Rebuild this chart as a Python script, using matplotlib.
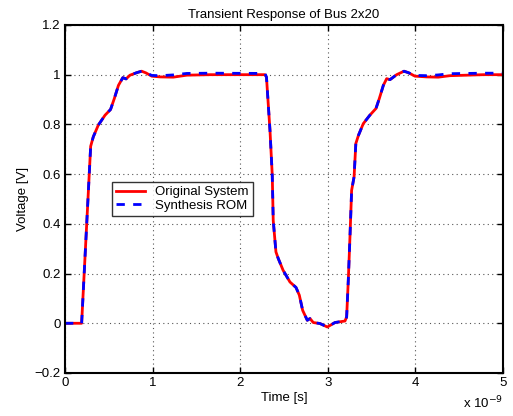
import matplotlib
matplotlib.use("Agg")
import matplotlib.pyplot as plt

plt.rcParams['font.family'] = ['Liberation Sans', 'DejaVu Sans']

# time in units of 1e-9 s
t_orig = [0.0, 0.19, 0.293, 0.323, 0.38, 0.457, 0.52, 0.563, 0.61, 0.66, 0.697, 0.742,
          0.818, 0.875, 0.925, 0.99, 1.085, 1.236, 1.39, 1.66, 2.283, 2.30, 2.34, 2.366,
          2.377, 2.408, 2.435, 2.49, 2.568, 2.637, 2.675, 2.713, 2.766, 2.797, 2.834,
          2.91, 2.995, 3.082, 3.196, 3.215, 3.234, 3.253, 3.272, 3.30, 3.32, 3.35, 3.405,
          3.48, 3.55, 3.588, 3.634, 3.672, 3.71, 3.786, 3.87, 3.92, 3.995, 4.13, 4.26,
          4.395, 4.78, 5.0]
v_orig = [0.0, 0.0, 0.712, 0.75, 0.797, 0.837, 0.86, 0.904, 0.957, 0.988, 0.983, 0.998,
          1.008, 1.014, 1.007, 0.994, 0.991, 0.99, 0.998, 1.0, 1.0, 0.99, 0.776, 0.595,
          0.414, 0.287, 0.26, 0.213, 0.166, 0.144, 0.113, 0.052, 0.012, 0.019, 0.003,
          -0.001, -0.015, 0.003, 0.009, 0.025, 0.173, 0.347, 0.535, 0.589, 0.723, 0.756,
          0.803, 0.837, 0.864, 0.904, 0.957, 0.984, 0.98, 1.0, 1.014, 1.008, 0.994,
          0.991, 0.99, 0.996, 1.0, 1.0]

t_rom = [0.0, 0.19, 0.293, 0.323, 0.38, 0.457, 0.52, 0.563, 0.61, 0.66, 0.697, 0.742,
         0.818, 0.875, 0.925, 0.99, 1.085, 1.236, 1.39, 1.66, 2.283, 2.30, 2.34, 2.366,
         2.377, 2.408, 2.435, 2.49, 2.568, 2.637, 2.675, 2.713, 2.766, 2.797, 2.834,
         2.91, 2.995, 3.082, 3.196, 3.215, 3.234, 3.253, 3.272, 3.30, 3.32, 3.35, 3.405,
         3.48, 3.55, 3.588, 3.634, 3.672, 3.71, 3.786, 3.87, 3.92, 3.995, 4.13, 4.26,
         4.395, 4.78, 5.0]
v_rom = [0.0, 0.0, 0.712, 0.75, 0.797, 0.837, 0.86, 0.904, 0.957, 0.988, 0.983, 0.998,
         1.008, 1.014, 1.008, 0.997, 0.996, 0.999, 1.005, 1.006, 1.005, 0.99, 0.776, 0.595,
         0.414, 0.287, 0.26, 0.213, 0.166, 0.144, 0.113, 0.052, 0.012, 0.019, 0.003,
         -0.001, -0.015, 0.003, 0.009, 0.025, 0.173, 0.347, 0.535, 0.589, 0.723, 0.756,
         0.803, 0.837, 0.864, 0.904, 0.957, 0.984, 0.98, 1.0, 1.014, 1.008, 0.997,
         0.996, 0.999, 1.004, 1.006, 1.006]

xticks = [0, 1, 2, 3, 4, 5]
yticks = [-0.2, 0, 0.2, 0.4, 0.6, 0.8, 1, 1.2]
ytick_labels = ['\u22120.2', '0', '0.2', '0.4', '0.6', '0.8', '1', '1.2']

fig = plt.figure(figsize=(5.13, 4.16), dpi=100)
ax = fig.add_axes([0.1267, 0.1034, 0.8538, 0.8366])

ax.plot(t_orig, v_orig, color='red', lw=2.0, label='Original System')
ax.plot(t_rom, v_rom, color='blue', lw=2.0, ls=(0, (3, 3)), label='Synthesis ROM')

ax.set_xlim(0, 5)
ax.set_ylim(-0.2, 1.2)
ax.set_xticks(xticks)
ax.set_xticklabels([str(x) for x in xticks])
ax.set_yticks(yticks)
ax.set_yticklabels(ytick_labels)
ax.tick_params(direction='in', top=True, right=True, labelsize=9.5, length=4, width=1, pad=3)
ax.grid(True, color='#555555', ls=(0, (1, 3)), lw=0.8)
for s in ax.spines.values():
    s.set_linewidth(1.5)

ax.set_xlabel('Time [s]', fontsize=9.5, labelpad=2)
ax.set_ylabel('Voltage [V]', fontsize=9.5)
ax.set_title('Transient Response of Bus 2x20', fontsize=9.5, pad=5)
ax.text(1.0, -0.062, r'x 10$^{-9}$', transform=ax.transAxes, ha='right', va='top', fontsize=9.5)

leg = ax.legend(loc='upper left', bbox_to_anchor=(0.1066, 0.548), fontsize=9.5,
                frameon=True, fancybox=False, edgecolor='black', borderpad=0.3,
                labelspacing=0.1, handlelength=2.2, borderaxespad=0)
leg.get_frame().set_linewidth(1.0)

fig.savefig('out.png', dpi=100)
